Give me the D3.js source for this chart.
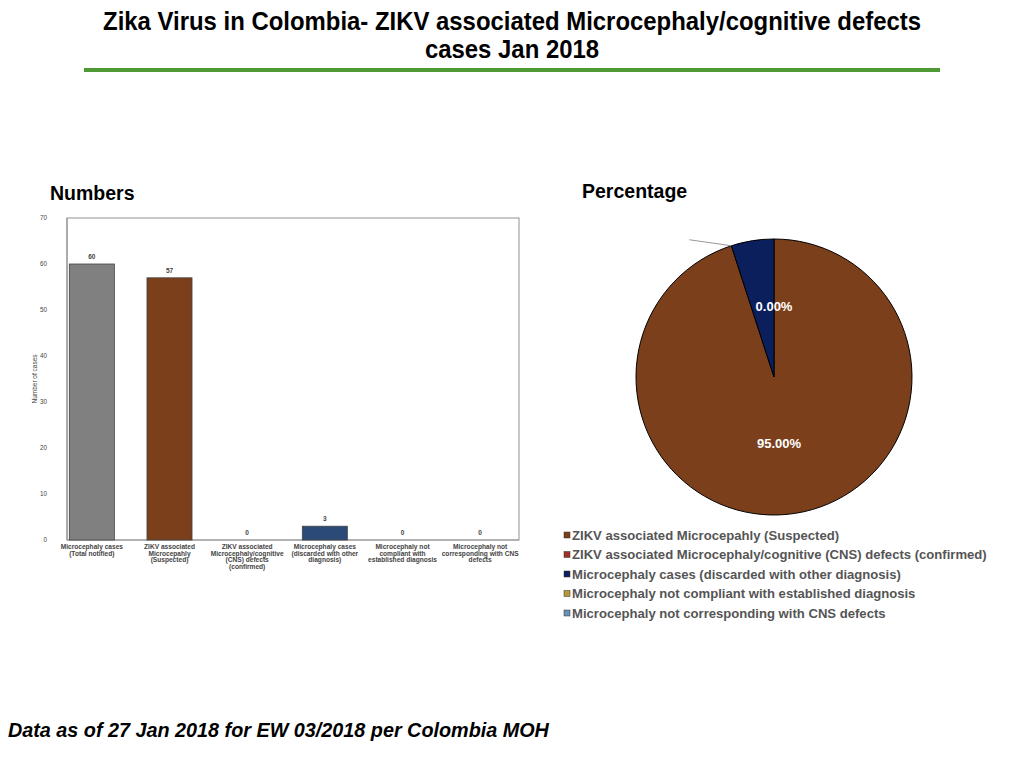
<!DOCTYPE html>
<html><head><meta charset="utf-8">
<script src="https://cdn.jsdelivr.net/npm/d3@7"></script>
<style>body{margin:0;background:#fff}svg{display:block}</style>
</head><body>
<script>
const categories = [
  ["Microcephaly cases","(Total notified)"],
  ["ZIKV associated","Microcepahly","(Suspected)"],
  ["ZIKV associated","Microcephaly/cognitive","(CNS) defects","(confirmed)"],
  ["Microcephaly cases","(discarded with other","diagnosis)"],
  ["Microcephaly not","compliant with","established diagnosis"],
  ["Microcephaly not","corresponding with CNS","defects"]
];
const barValues = [60, 57, 0, 3, 0, 0];
const barColors = ["#808080", "#7B3F1B", "#7B3F1B", "#2C4A78", "#808080", "#808080"];
const yTicks = [0,10,20,30,40,50,60,70];

const pieLabels = [
  "ZIKV associated Microcepahly (Suspected)",
  "ZIKV associated Microcephaly/cognitive (CNS) defects (confirmed)",
  "Microcephaly cases (discarded with other diagnosis)",
  "Microcephaly not compliant with established diagnosis",
  "Microcephaly not corresponding with CNS defects"
];
const pieValues = [95, 0, 5, 0, 0];
const pieColors = ["#7B3F1B", "#A0302A", "#0B1F5C", "#B8963A", "#6A8FB8"];
const pieTexts = ["95.00%", "", "0.00%", "", ""];

const svg = d3.select("body").append("svg").attr("width",1024).attr("height",768);

// Title (condensed look via horizontal scale)
const title = svg.append("g").attr("transform","translate(512,0) scale(0.92,1)")
  .append("text").attr("text-anchor","middle")
  .attr("font-family","'Liberation Sans Narrow','Arial Narrow','Liberation Sans',Arial,sans-serif")
  .attr("font-weight","bold").attr("font-size",26).attr("fill","#000");
title.append("tspan").attr("x",0).attr("y",30).text("Zika Virus in Colombia- ZIKV associated Microcephaly/cognitive defects");
title.append("tspan").attr("x",0).attr("y",58).text("cases Jan 2018");
svg.append("rect").attr("x",84).attr("y",68).attr("width",856).attr("height",4).attr("fill","#4E9A35");

svg.append("text").attr("x",50).attr("y",200).attr("font-family","Liberation Sans, Arial, sans-serif")
  .attr("font-weight","bold").attr("font-size",19.5).text("Numbers");
svg.append("text").attr("x",582).attr("y",198).attr("font-family","Liberation Sans, Arial, sans-serif")
  .attr("font-weight","bold").attr("font-size",19.5).text("Percentage");

// Bar chart
const x = d3.scaleBand().domain(d3.range(categories.length)).range([53,519]).paddingInner(0.42).paddingOuter(0.21);
const y = d3.scaleLinear().domain([0,70]).range([540,218]);
const g = svg.append("g").attr("font-family","Liberation Sans, Arial, sans-serif");
g.append("rect").attr("x",67).attr("y",218).attr("width",452).attr("height",322)
  .attr("fill","none").attr("stroke","#777").attr("stroke-width",0.8);
g.append("line").attr("x1",67).attr("x2",67).attr("y1",218).attr("y2",540).attr("stroke","#999").attr("stroke-width",1.2);
g.append("line").attr("x1",67).attr("x2",519).attr("y1",540).attr("y2",540).attr("stroke","#999").attr("stroke-width",1.2);

g.selectAll(".yt").data(yTicks).join("text").attr("x",47).attr("y",d=>y(d)+2)
  .attr("text-anchor","end").attr("font-size",6.3).attr("fill","#444").text(d=>d);
g.append("text").attr("transform","translate(37,379) rotate(-90)").attr("text-anchor","middle")
  .attr("font-size",6.5).attr("fill","#444").text("Number of cases");

g.selectAll(".bar").data(barValues).join("rect")
  .attr("x",(d,i)=>x(i)).attr("width",x.bandwidth())
  .attr("y",d=>y(d)).attr("height",d=>y(0)-y(d))
  .attr("fill",(d,i)=>barColors[i]).attr("stroke","#444").attr("stroke-width",0.8);
g.selectAll(".vl").data(barValues).join("text")
  .attr("x",(d,i)=>x(i)+x.bandwidth()/2).attr("y",d=>y(d)-5)
  .attr("text-anchor","middle").attr("font-size",6.5).attr("font-weight","bold").attr("fill","#444").text(d=>d);
categories.forEach((lines,i)=>{
  const t = g.append("text").attr("text-anchor","middle").attr("font-size",6.6).attr("font-weight","bold").attr("fill","#444");
  lines.forEach((l,k)=>t.append("tspan").attr("x",x(i)+x.bandwidth()/2).attr("y",549+k*6.7).text(l));
});

// Pie
const cx=774, cy=377, r=138;
const pie = d3.pie().sort(null).value(d=>d)(pieValues);
const arc = d3.arc().innerRadius(0).outerRadius(r);
const pg = svg.append("g").attr("transform",`translate(${cx},${cy})`);
pg.selectAll("path").data(pie.filter(d=>d.value>0)).join("path")
  .attr("d",arc).attr("fill",d=>pieColors[d.index]).attr("stroke","#000").attr("stroke-width",1);
// leader line for navy slice
const navy = pie[2];
const la = navy.startAngle;
const p0 = [Math.sin(la)*r, -Math.cos(la)*r];
pg.append("line").attr("x1",p0[0]).attr("y1",p0[1]).attr("x2",p0[0]-42).attr("y2",p0[1]-6)
  .attr("stroke","#999").attr("stroke-width",1);
const labelPos = [[5,66], null, [0,-71], null, null];
pie.forEach((d,i)=>{
  if(!pieTexts[i]) return;
  pg.append("text").attr("x",labelPos[i][0]).attr("y",labelPos[i][1]+4.5).attr("text-anchor","middle")
    .attr("font-family","Liberation Sans, Arial, sans-serif").attr("font-weight","bold")
    .attr("font-size",13).attr("fill","#fff").text(pieTexts[i]);
});

// Legend
const lg = svg.append("g").attr("font-family","Liberation Sans, Arial, sans-serif");
pieLabels.forEach((l,i)=>{
  const yy = 535 + i*19.5;
  lg.append("rect").attr("x",564).attr("y",yy-3).attr("width",6).attr("height",6)
    .attr("fill",pieColors[i]).attr("stroke","#333").attr("stroke-width",0.5);
  lg.append("text").attr("x",572).attr("y",yy+4.5).attr("font-size",13.1).attr("font-weight","bold")
    .attr("fill","#555").text(l);
});

svg.append("text").attr("x",8).attr("y",737).attr("font-family","Liberation Sans, Arial, sans-serif")
  .attr("font-weight","bold").attr("font-style","italic").attr("font-size",19.8).text("Data as of 27 Jan 2018 for EW 03/2018 per Colombia MOH");
</script>
</body></html>
